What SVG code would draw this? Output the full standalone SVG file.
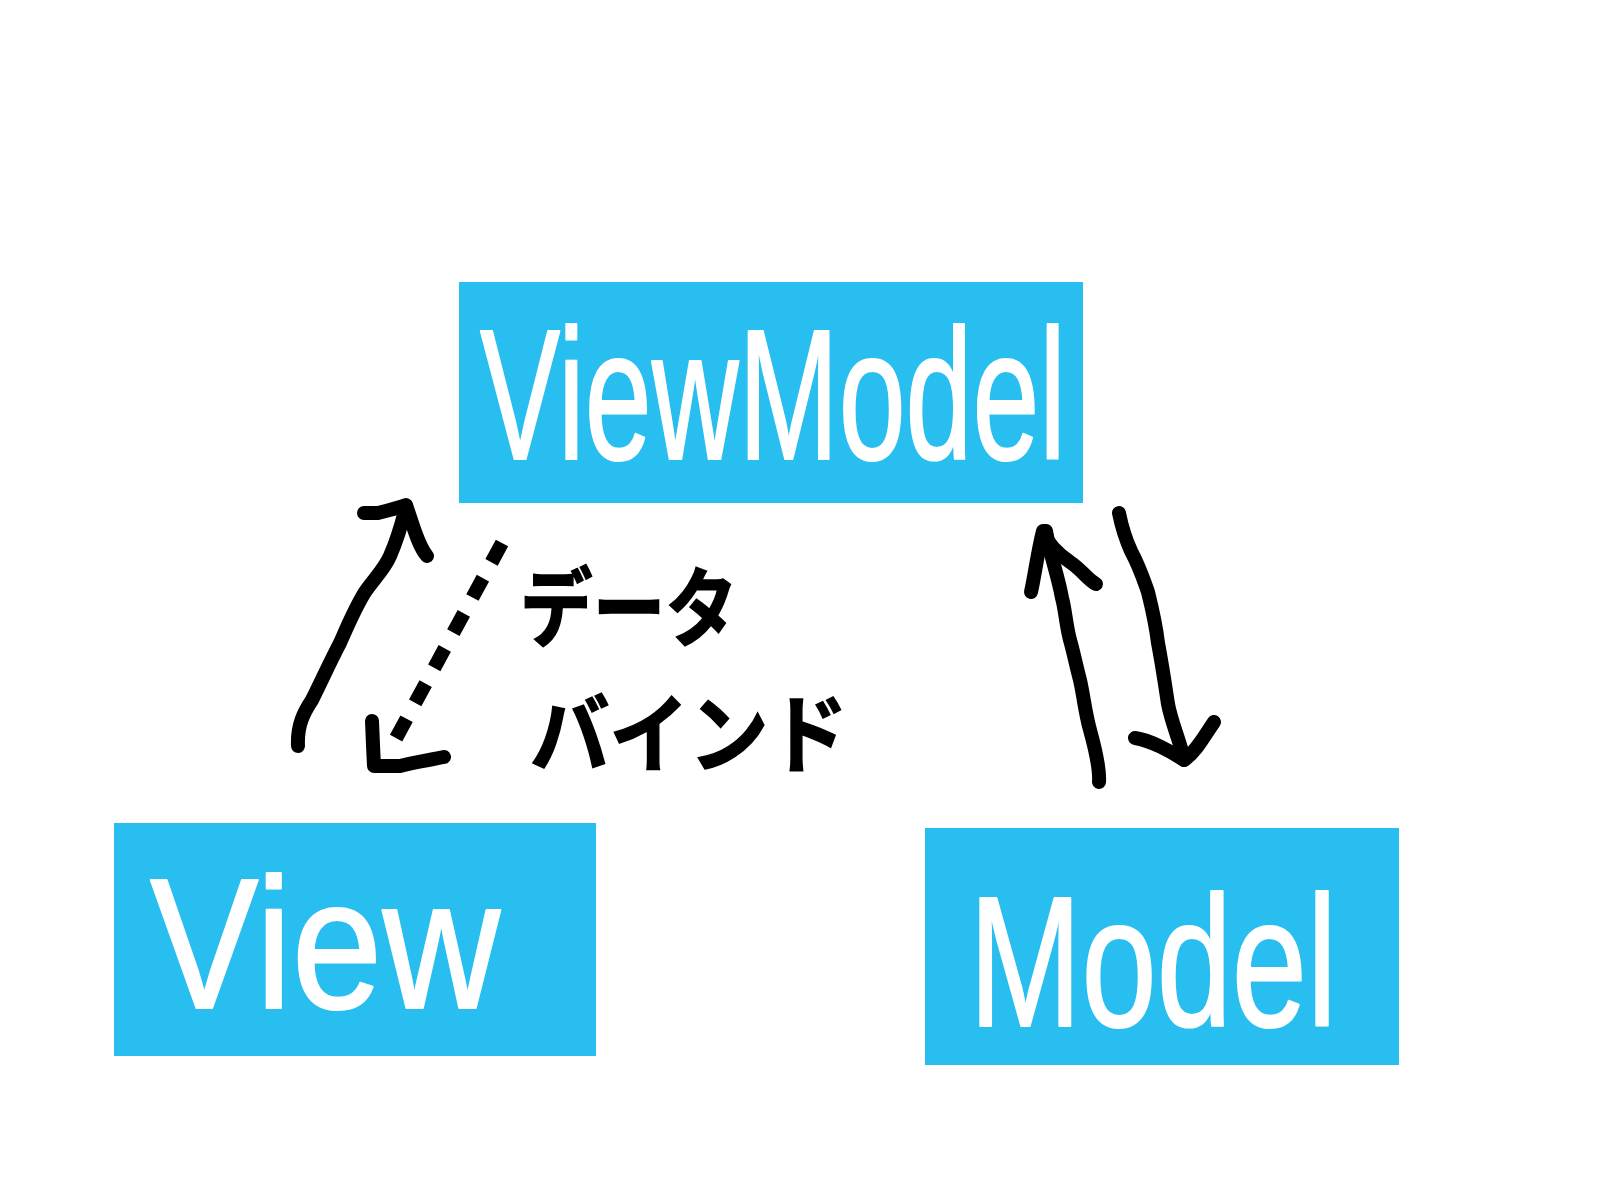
<svg xmlns="http://www.w3.org/2000/svg" width="1600" height="1200" viewBox="0 0 1600 1200">
<style>
.box{fill:#29BEF0}
.lbl{fill:#FFFFFF;stroke:#FFFFFF;stroke-width:2;stroke-linejoin:round;font-family:"Liberation Sans","DejaVu Sans",sans-serif;font-size:186px;text-anchor:middle}
.ln{fill:none;stroke:#000;stroke-width:14;stroke-linecap:round;stroke-linejoin:round}
.dash{stroke-dasharray:22 18;stroke-linecap:butt}
.jp{fill:#000;stroke:#000;stroke-width:1.5;font-family:"Noto Sans CJK JP",sans-serif;font-weight:700;font-size:86px}
</style>
<rect width="1600" height="1200" fill="#FFFFFF"/>
<g id="viewmodel">
<rect class="box" x="459" y="282" width="624" height="221"/>
<text class="lbl" x="773" y="459" textLength="586" lengthAdjust="spacingAndGlyphs">ViewModel</text>
</g>
<g id="view">
<rect class="box" x="114" y="823" width="482" height="233"/>
<text class="lbl" x="325" y="1008" textLength="350" lengthAdjust="spacingAndGlyphs">View</text>
</g>
<g id="model">
<rect class="box" x="925" y="828" width="474" height="237"/>
<text class="lbl" x="1153" y="1026" textLength="368" lengthAdjust="spacingAndGlyphs">Model</text>
</g>
<g id="connectors">
<path class="ln" d="M298,746 C297,725 304,712 312,700 C322,680 330,662 340,643 C348,625 355,608 365,592 C375,578 385,568 390,556 C397,540 402,523 406,507"/>
<path class="ln" d="M364,513 L378,513 C390,510 398,508 406,505 L411,520 C416,535 420,548 427,556"/>
<path class="ln dash" d="M502,543 L388,753"/>
<path class="ln" d="M372,721 L373,745 L374,766 L400,766 C415,762 430,760 444,757"/>
<path class="ln" d="M1099,782 C1100,768 1095,748 1090,730 C1085,712 1084,698 1080,680 C1076,665 1073,650 1070,640 C1066,625 1065,608 1062,598 C1058,575 1050,555 1046,531"/>
<path class="ln" d="M1031,592 C1035,574 1038,550 1043,531 C1048,545 1060,555 1070,562 C1082,570 1088,580 1096,584"/>
<path class="ln" d="M1119,513 C1122,528 1126,540 1131,551 C1140,568 1143,578 1148,592 C1152,608 1156,626 1158,643 C1162,664 1165,684 1168,704 C1172,725 1180,740 1184,760"/>
<path class="ln" d="M1135,738 C1150,740 1172,752 1184,760 C1196,752 1205,735 1214,722"/>
</g>
<g id="label-databind">
<text class="jp" x="520" y="640" textLength="218" lengthAdjust="spacingAndGlyphs">データ</text>
<text class="jp" x="530" y="766" textLength="318" lengthAdjust="spacingAndGlyphs">バインド</text>
</g>
</svg>
